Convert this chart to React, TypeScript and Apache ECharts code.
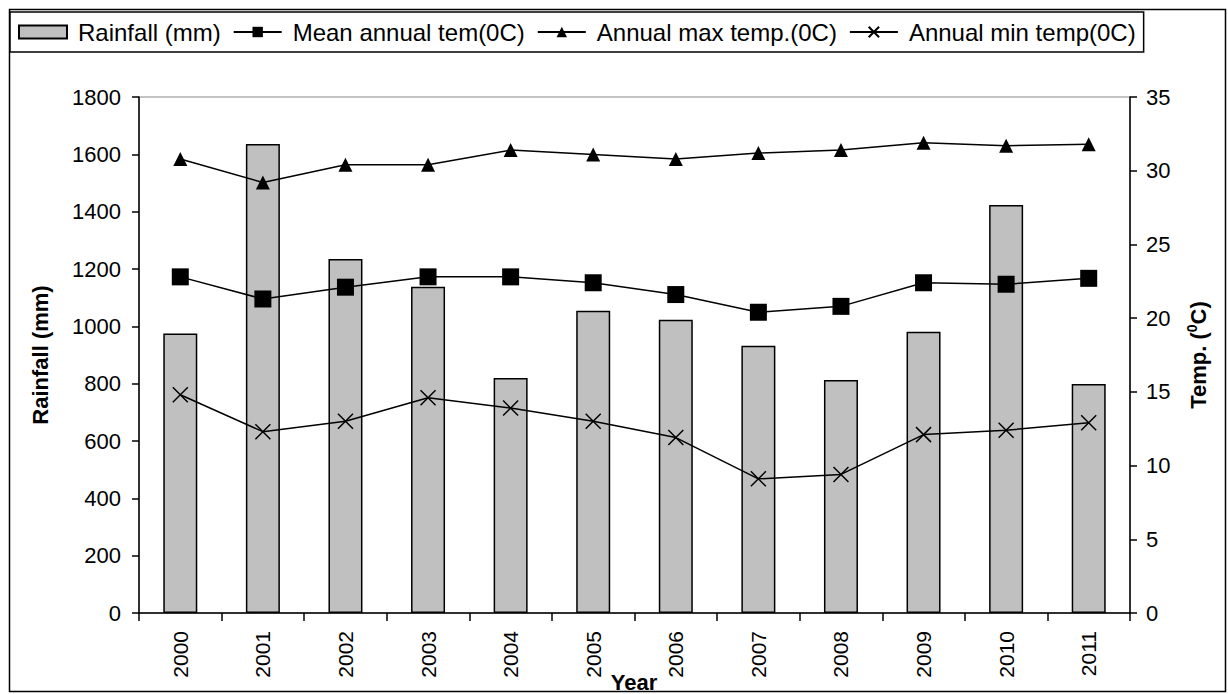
import React, { useEffect, useRef } from "react";
import * as echarts from "echarts";

const years = ["2000", "2001", "2002", "2003", "2004", "2005", "2006", "2007", "2008", "2009", "2010", "2011"];
const rainfall = [975, 1636, 1235, 1138, 820, 1054, 1023, 932, 813, 981, 1423, 799];
const meanTemp = [22.8, 21.3, 22.1, 22.8, 22.8, 22.4, 21.6, 20.4, 20.8, 22.4, 22.3, 22.7];
const maxTemp = [30.8, 29.2, 30.4, 30.4, 31.4, 31.1, 30.8, 31.2, 31.4, 31.9, 31.7, 31.8];
const minTemp = [14.8, 12.3, 13.0, 14.6, 13.9, 13.0, 11.9, 9.1, 9.4, 12.1, 12.4, 12.9];

const FONT = "'Liberation Sans', Arial, sans-serif";

export default function App() {
  const ref = useRef<HTMLDivElement>(null);
  useEffect(() => {
    if (!ref.current) return;
    const chart = echarts.init(ref.current, undefined, { renderer: "svg" });
    const axisLine = { show: true, lineStyle: { color: "#000", width: 1.5 } };
    const axisTick = { show: true, inside: false, length: 7, lineStyle: { color: "#000", width: 1.5 } };
    const label = { color: "#000", fontSize: 22, fontFamily: FONT, formatter: (v: any) => String(v) };
    chart.setOption({
      animation: false,
      backgroundColor: "#fff",
      textStyle: { fontFamily: FONT },
      grid: {
        left: 139,
        right: 98,
        top: 97,
        bottom: 81,
        show: true,
        borderColor: "#888",
        borderWidth: 1,
        backgroundColor: "transparent",
      },
      legend: {
        left: 10,
        top: 12,
        padding: [8, 8, 8, 8],
        itemGap: 12,
        itemWidth: 48,
        itemHeight: 13,
        borderColor: "#000",
        borderWidth: 1.5,
        backgroundColor: "#fff",
        textStyle: { color: "#000", fontSize: 24, fontFamily: FONT, padding: [0, 0, 0, 6] },
        data: [
          { name: "Rainfall (mm)", icon: "rect" },
          "Mean annual tem(0C)",
          "Annual max temp.(0C)",
          "Annual min temp(0C)",
        ],
      },
      xAxis: {
        type: "category",
        data: years,
        boundaryGap: true,
        axisLine,
        axisTick: { ...axisTick, length: 8, alignWithLabel: false },
        axisLabel: { color: "#000", fontFamily: FONT, fontSize: 21, rotate: 90, margin: 18 },
        splitLine: { show: false },
      },
      yAxis: [
        {
          type: "value",
          min: 0,
          max: 1800,
          interval: 200,
          axisLine,
          axisTick,
          axisLabel: { ...label, margin: 18 },
          splitLine: { show: false },
        },
        {
          type: "value",
          position: "right",
          min: 0,
          max: 35,
          interval: 5,
          axisLine,
          axisTick,
          axisLabel: { ...label, margin: 16 },
          splitLine: { show: false },
        },
      ],
      series: [
        {
          name: "Rainfall (mm)",
          type: "bar",
          data: rainfall,
          barWidth: 34,
          itemStyle: { color: "#c0c0c0", borderColor: "#000", borderWidth: 1.5 },
          z: 1,
        },
        {
          name: "Mean annual tem(0C)",
          type: "line",
          yAxisIndex: 1,
          data: meanTemp,
          symbol: "rect",
          symbolSize: 17,
          lineStyle: { color: "#000", width: 1.5 },
          itemStyle: { color: "#000" },
          z: 3,
        },
        {
          name: "Annual max temp.(0C)",
          type: "line",
          yAxisIndex: 1,
          data: maxTemp,
          symbol: "triangle",
          symbolSize: 14,
          lineStyle: { color: "#000", width: 1.5 },
          itemStyle: { color: "#000" },
          z: 3,
        },
        {
          name: "Annual min temp(0C)",
          type: "line",
          yAxisIndex: 1,
          data: minTemp,
          symbol: "path://M0,0L10,10M10,0L0,10",
          symbolSize: 15,
          lineStyle: { color: "#000", width: 1.5 },
          itemStyle: { color: "#000", borderColor: "#000", borderWidth: 1.5 },
          z: 3,
        },
      ],
      graphic: [
        {
          type: "rect",
          shape: { x: 9.5, y: 9.5, width: 1216, height: 682 },
          style: { fill: "none", stroke: "#000", lineWidth: 1.5 },
          silent: true,
          z: 0,
        },
        {
          type: "text",
          x: 40,
          y: 355,
          rotation: Math.PI / 2,
          style: {
            text: "Rainfall (mm)",
            fontSize: 22,
            fontWeight: "bold",
            fontFamily: FONT,
            fill: "#000",
            textAlign: "center",
            textVerticalAlign: "middle",
          },
        },
        {
          type: "text",
          x: 1198,
          y: 355,
          rotation: Math.PI / 2,
          style: {
            text: "{a|Temp. (}{b|0}{a|C)}",
            rich: {
              a: { fontSize: 22, fontWeight: "bold", fontFamily: FONT, fill: "#000", color: "#000" },
              b: { fontSize: 14, fontWeight: "bold", fontFamily: FONT, fill: "#000", color: "#000", padding: [0, 0, 12, 0] },
            },
            textAlign: "center",
            textVerticalAlign: "middle",
          },
        },
        {
          type: "text",
          x: 634,
          y: 682,
          style: {
            text: "Year",
            fontSize: 22,
            fontWeight: "bold",
            fontFamily: FONT,
            fill: "#000",
            textAlign: "center",
            textVerticalAlign: "middle",
          },
        },
      ],
    });
    return () => chart.dispose();
  }, []);
  return (
    <div
      ref={ref}
      style={{ position: "fixed", left: 0, top: 0, width: 1228, height: 694 }}
    />
  );
}
